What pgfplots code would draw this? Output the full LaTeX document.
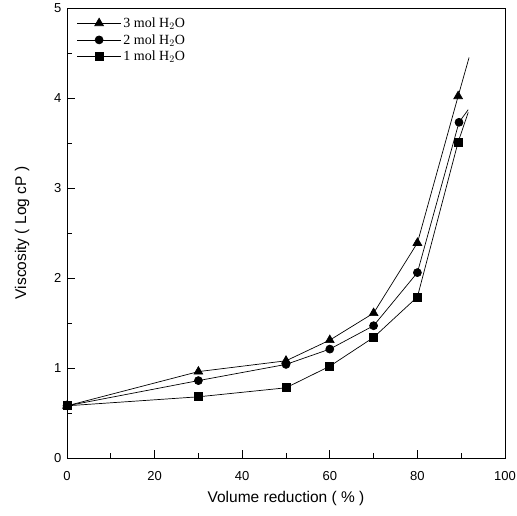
\documentclass[border=0pt]{standalone}
\usepackage{pgfplots}
\pgfplotsset{compat=1.18}
\usepackage{fontspec}
\setmainfont{Liberation Serif}
\setsansfont{Liberation Sans}
\begin{document}
\begin{tikzpicture}[x=1pt,y=1pt]
\useasboundingbox (0,0) rectangle (517,515);
\begin{axis}[
  at={(67pt,57pt)}, anchor=south west,
  scale only axis, width=438pt, height=450pt,
  xmin=0, xmax=100, ymin=0, ymax=5,
  xtick={0,20,40,60,80,100}, ytick={0,1,2,3,4,5},
  minor x tick num=1, minor y tick num=1,
  tick pos=left, tick align=inside,
  major tick length=8pt, minor tick length=5pt,
  axis line style={line width=1pt},
  every tick/.style={black, line width=0.8pt},
  /pgf/number format/assume math mode=true,
  tick label style={font=\sffamily\fontsize{13}{15}\selectfont},
  xticklabel style={yshift=-10pt},
  yticklabel style={xshift=-2pt},
  xlabel={Volume reduction ( \% )},
  ylabel={Viscosity ( Log cP )},
  label style={font=\sffamily\fontsize{15.5}{19}\selectfont},
  xlabel style={yshift=-4pt},
  ylabel style={yshift=18pt},
  legend style={at={(0.015,0.988)}, anchor=north west, draw=none, fill=none,
    font=\fontsize{14}{16}\selectfont, row sep=1.5pt},
  legend cell align=left,
  legend image code/.code={
    \draw[#1] (0pt,0pt) -- (44pt,0pt);
    \draw[#1, only marks] plot coordinates {(22pt,0pt)};
  },
]
\addplot[black, line width=0.7pt, mark=triangle*, mark size=5pt] coordinates {
  (0,0.58) (30,0.96) (50,1.08) (60,1.31) (70,1.61) (80,2.39) (89.3,4.02)};
\addlegendentry{3 mol H$_2$O}
\addplot[black, line width=0.7pt, mark=*, mark size=4pt] coordinates {
  (0,0.58) (30,0.86) (50,1.04) (60,1.21) (70,1.47) (80,2.06) (89.5,3.73)};
\addlegendentry{2 mol H$_2$O}
\addplot[black, line width=0.7pt, mark=square*, mark size=4pt] coordinates {
  (0,0.58) (30,0.68) (50,0.78) (60,1.02) (70,1.34) (80,1.79) (89.3,3.51)};
\addlegendentry{1 mol H$_2$O}
\addplot[black, line width=0.7pt, no marks, forget plot] coordinates {(89.3,4.02) (91.8,4.45)};
\addplot[black, line width=0.7pt, no marks, forget plot] coordinates {(89.5,3.73) (91.6,3.87)};
\addplot[black, line width=0.7pt, no marks, forget plot] coordinates {(89.3,3.51) (91.6,3.84)};
\end{axis}
\end{tikzpicture}
\end{document}
